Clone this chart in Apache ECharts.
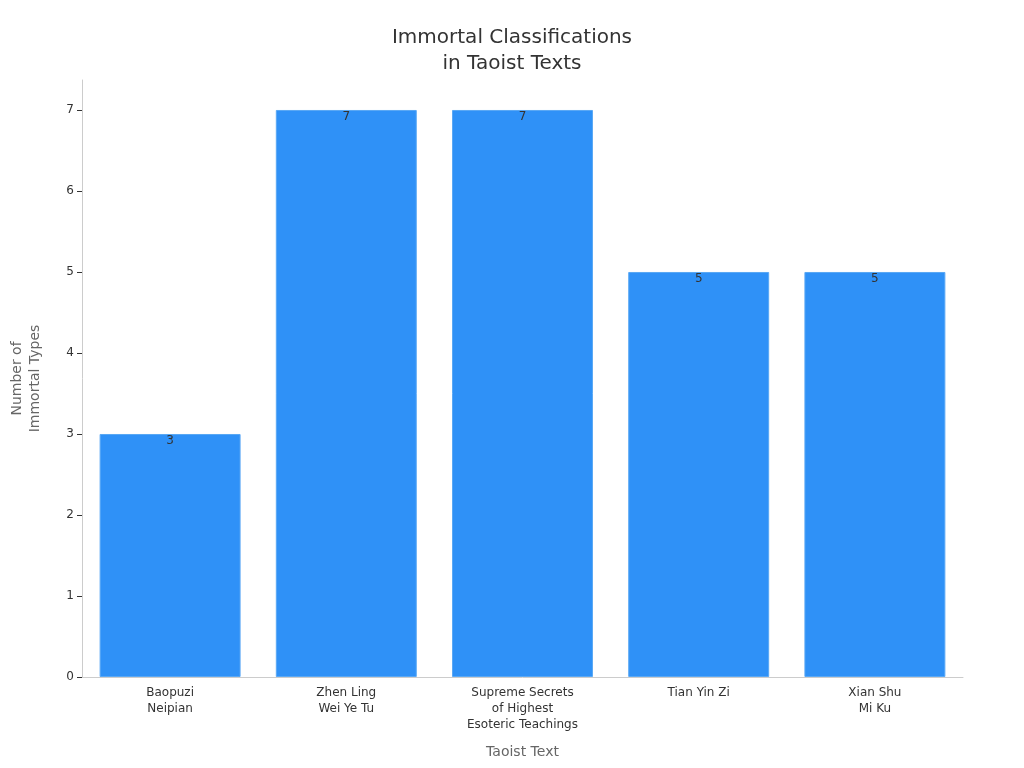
<!DOCTYPE html>
<html><head><meta charset="utf-8">
<script src="https://cdn.jsdelivr.net/npm/echarts@6/dist/echarts.min.js"></script>
<style>html,body{margin:0;padding:0;background:#fff}#c{width:1024px;height:768px}</style>
</head><body><div id="c"></div>
<script>
const categories = ["Baopuzi\nNeipian", "Zhen Ling\nWei Ye Tu", "Supreme Secrets\nof Highest\nEsoteric Teachings", "Tian Yin Zi", "Xian Shu\nMi Ku"];
const values = [3, 7, 7, 5, 5];
const chart = echarts.init(document.getElementById('c'));
chart.setOption({
  animation: false,
  title: { text: "Immortal Classifications\nin Taoist Texts", left: 'center', top: 20,
    textStyle: { fontFamily: 'DejaVu Sans', fontSize: 20, fontWeight: 'normal', color: '#333', lineHeight: 26 } },
  grid: { left: 70, right: 61, top: 80, bottom: 91 },
  xAxis: { type: 'category', data: categories, name: 'Taoist Text', nameLocation: 'middle', nameGap: 68,
    nameTextStyle: { fontFamily: 'DejaVu Sans', fontSize: 14, color: '#666' },
    axisLine: { lineStyle: { color: '#ccc' } }, axisTick: { alignWithLabel: true, lineStyle: { color: '#333' } },
    axisLabel: { fontFamily: 'DejaVu Sans', fontSize: 12, color: '#333', lineHeight: 16 } },
  yAxis: { type: 'value', min: 0, max: 7.37, interval: 1, name: 'Number of\nImmortal Types', nameLocation: 'middle', nameGap: 38,
    nameTextStyle: { fontFamily: 'DejaVu Sans', fontSize: 14, color: '#666', lineHeight: 18 },
    axisLine: { show: true, lineStyle: { color: '#ccc' } }, axisTick: { show: true, lineStyle: { color: '#333' } },
    splitLine: { show: false },
    axisLabel: { fontFamily: 'DejaVu Sans', fontSize: 12, color: '#333', showMaxLabel: false } },
  series: [{ type: 'bar', data: values, barCategoryGap: '20%',
    itemStyle: { color: '#2f91f7', borderColor: '#5aa8f5', borderWidth: 1 },
    label: { show: true, position: 'insideTop', offset: [0, -4], color: '#333', fontFamily: 'DejaVu Sans', fontSize: 12 } }]
});
</script></body></html>
